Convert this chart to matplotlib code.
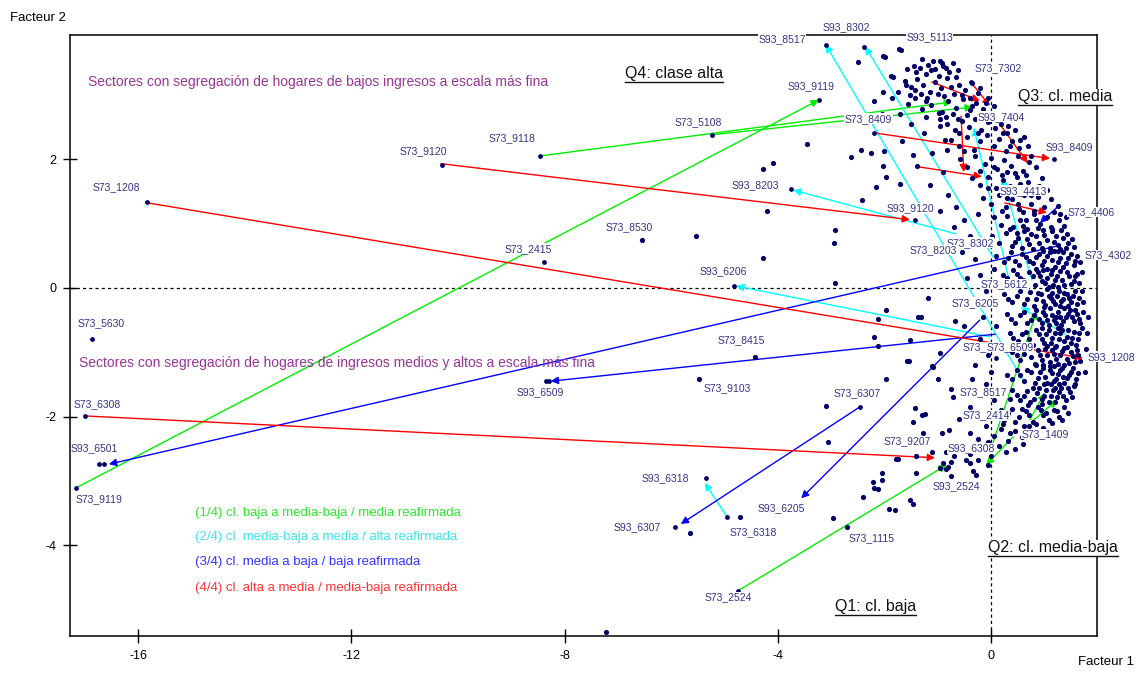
import matplotlib
matplotlib.use("Agg")
import matplotlib.pyplot as plt
from matplotlib.lines import Line2D

plt.rcParams['font.family'] = ['Liberation Sans', 'DejaVu Sans']
plt.rcParams['axes.unicode_minus'] = False

# ---- data -------------------------------------------------------------
# sectors drawn as dots (Facteur 1, Facteur 2)
band_top = [(-1.45, 3.45), (-1.30, 3.55), (-1.18, 3.47), (-1.05, 3.40), (-0.95, 3.53), (-0.85, 3.42),
            (-0.72, 3.50), (-0.62, 3.38), (-1.22, 3.33), (-0.98, 3.30), (-1.62, 3.22), (-1.50, 3.12),
            (-1.38, 3.25), (-1.27, 3.15), (-1.15, 3.05), (-1.05, 3.20), (-0.93, 3.10), (-0.82, 3.26),
            (-0.70, 3.02), (-0.60, 3.15), (-0.48, 3.08), (-0.35, 3.18), (-0.25, 3.03), (-1.32, 3.02),
            (-0.88, 2.98), (-1.55, 2.85), (-1.42, 2.95), (-1.30, 2.78), (-1.12, 2.84), (-0.98, 2.72),
            (-0.80, 2.90), (-0.65, 2.80), (-0.52, 2.93), (-0.40, 2.76), (-0.28, 2.88), (-0.15, 2.78),
            (-0.05, 2.95), (0.05, 2.82), (-0.72, 2.70), (-0.45, 2.68),
            (-1.40, 3.35), (-1.12, 3.38), (-0.90, 3.45), (-0.78, 3.35), (-0.66, 3.28), (-1.52, 3.00),
            (-1.20, 2.95), (-1.00, 3.02), (-0.75, 3.12), (-0.55, 3.00), (-0.40, 2.95), (-0.20, 3.10),
            (-0.10, 2.88), (-0.35, 2.82), (-0.62, 2.62), (-0.85, 2.65), (-0.15, 2.62), (0.02, 2.70)]
band_upper = [(-0.95, 2.62), (-0.82, 2.55), (-0.68, 2.45), (-0.55, 2.60), (-0.42, 2.50), (-0.30, 2.62),
              (-0.18, 2.45), (-0.05, 2.58), (0.08, 2.48), (0.20, 2.62), (0.32, 2.52), (-0.60, 2.40),
              (0.12, 2.68), (-0.25, 2.40), (-0.75, 2.30), (-0.60, 2.20), (-0.45, 2.35), (-0.32, 2.15),
              (-0.20, 2.28), (-0.08, 2.38), (0.05, 2.20), (0.15, 2.32), (0.28, 2.12), (0.40, 2.28),
              (0.52, 2.18), (0.62, 2.35), (-0.50, 2.12), (0.22, 2.40), (-0.58, 2.00), (-0.45, 1.88),
              (-0.30, 2.05), (-0.12, 1.92), (0.00, 2.02), (0.12, 1.85), (0.25, 1.98), (0.38, 1.90),
              (0.50, 2.05), (0.60, 1.82), (0.72, 1.95), (0.85, 1.88), (0.30, 1.80), (-0.20, 1.82),
              (0.45, 1.78), (0.18, 2.55), (0.30, 2.40), (0.45, 2.45), (0.55, 2.30), (0.70, 2.20),
              (0.75, 2.05), (0.35, 2.20)]
band_mid = [(-0.35, 1.70), (-0.20, 1.60), (-0.05, 1.72), (0.10, 1.55), (0.22, 1.68), (0.35, 1.58),
            (0.48, 1.72), (0.58, 1.52), (0.70, 1.65), (0.82, 1.55), (0.95, 1.70), (0.40, 1.50),
            (0.65, 1.76), (-0.15, 1.40), (0.00, 1.30), (0.15, 1.45), (0.28, 1.25), (0.40, 1.38),
            (0.52, 1.22), (0.62, 1.45), (0.75, 1.30), (0.88, 1.42), (1.00, 1.25), (1.12, 1.38),
            (1.25, 1.28), (0.45, 1.48), (0.80, 1.20), (0.05, 1.10), (0.18, 0.98), (0.30, 1.12),
            (0.42, 0.95), (0.55, 1.05), (0.68, 0.92), (0.80, 1.15), (0.92, 1.00), (1.05, 1.10),
            (1.15, 0.92), (1.28, 1.05), (1.38, 0.96), (0.60, 1.18), (0.98, 0.90), (0.02, 0.80),
            (0.15, 0.70), (0.28, 0.85), (0.40, 0.65), (0.50, 0.78), (0.62, 0.88), (0.72, 0.68),
            (0.85, 0.80), (0.95, 0.62), (1.05, 0.75), (1.15, 0.88), (1.25, 0.66), (1.35, 0.78),
            (1.45, 0.70), (0.78, 0.60), (1.10, 0.62), (0.58, 0.62),
            (0.05, 1.88), (0.20, 1.75), (0.55, 1.62), (0.75, 1.45), (0.90, 1.58), (1.05, 1.52),
            (1.18, 1.18), (1.30, 1.15), (0.30, 1.40), (0.50, 1.30), (0.65, 1.05), (0.85, 1.05),
            (0.20, 1.20), (1.40, 1.10)]
dense_upper = [(0.35, 0.92), (0.48, 0.86), (0.60, 0.96), (0.75, 0.84), (0.88, 0.93), (1.00, 0.82),
               (1.12, 0.95), (1.22, 0.80), (1.32, 0.90), (1.42, 0.83), (1.52, 0.76), (0.45, 0.72),
               (0.68, 0.76), (0.90, 0.70), (1.18, 0.72), (1.40, 0.62), (1.55, 0.64), (1.30, 0.60),
               (0.32, 0.46), (0.45, 0.42), (0.58, 0.52), (0.72, 0.42), (0.84, 0.48), (0.95, 0.36),
               (1.05, 0.50), (1.15, 0.44), (1.25, 0.40), (1.35, 0.55), (1.45, 0.46), (1.55, 0.36),
               (1.62, 0.50), (1.68, 0.40), (1.18, 0.58), (0.98, 0.58), (0.30, 0.15), (0.42, 0.28),
               (0.55, 0.15), (0.66, 0.05), (0.78, 0.18), (0.88, 0.25), (0.96, 0.10), (1.06, 0.16),
               (1.16, 0.05), (1.24, 0.18), (1.34, 0.12), (1.42, 0.25), (1.50, 0.06), (1.58, 0.18),
               (1.66, 0.08), (1.70, 0.25), (1.14, 0.28)]
dense_lower = [(0.32, -0.18), (0.48, -0.12), (0.62, -0.25), (0.74, -0.06), (0.84, -0.18), (0.94, -0.10),
               (1.02, -0.26), (1.08, -0.12), (1.16, -0.20), (1.24, -0.12), (1.32, -0.20), (1.38, -0.08),
               (1.46, -0.16), (1.54, -0.12), (1.62, -0.25), (1.70, -0.05), (1.72, -0.22), (0.38, -0.48),
               (0.55, -0.42), (0.68, -0.55), (0.80, -0.42), (0.90, -0.48), (0.98, -0.38), (1.06, -0.50),
               (1.14, -0.42), (1.22, -0.55), (1.30, -0.45), (1.36, -0.52), (1.44, -0.40), (1.52, -0.46),
               (1.58, -0.35), (1.65, -0.48), (1.72, -0.38), (0.42, -0.78), (0.58, -0.72), (0.72, -0.80),
               (0.84, -0.66), (0.95, -0.80), (1.04, -0.72), (1.12, -0.86), (1.20, -0.70), (1.28, -0.80),
               (1.34, -0.66), (1.42, -0.76), (1.50, -0.86), (1.56, -0.68), (1.64, -0.80), (1.70, -0.62),
               (1.05, -0.90), (0.48, -1.05), (0.62, -1.02), (0.76, -1.08), (0.88, -0.96), (0.96, -1.12),
               (1.06, -1.04), (1.14, -0.96), (1.22, -1.10), (1.30, -1.05), (1.38, -0.94), (1.46, -1.16),
               (1.54, -1.06), (1.62, -0.96), (1.68, -1.14), (1.10, -1.22), (0.85, -1.20), (0.40, -1.42),
               (0.55, -1.35), (0.68, -1.28), (0.82, -1.48), (0.92, -1.30), (1.02, -1.38), (1.10, -1.28),
               (1.18, -1.45), (1.26, -1.34), (1.34, -1.25), (1.42, -1.40), (1.50, -1.30), (1.58, -1.50),
               (1.64, -1.32), (1.00, -1.50), (1.28, -1.50), (0.35, -1.72), (0.48, -1.66), (0.62, -1.68),
               (0.74, -1.78), (0.86, -1.64), (0.96, -1.72), (1.04, -1.58), (1.12, -1.68), (1.20, -1.78),
               (1.28, -1.62), (1.36, -1.68), (1.44, -1.56), (1.52, -1.70), (1.20, -1.55), (0.78, -1.55),
               (0.18, -1.90), (0.32, -1.95), (0.46, -2.08), (0.58, -1.88), (0.72, -1.98), (0.84, -2.12),
               (0.94, -1.90), (1.04, -1.95), (1.14, -2.10), (1.24, -1.92), (1.34, -2.06), (0.62, -2.15),
               (0.35, -2.25), (0.92, -2.30), (1.78, -0.95), (1.80, -0.70), (1.76, -1.30), (1.82, -0.45)]
band_center = [(0.10, 0.50), (0.25, 0.40), (0.38, 0.55), (0.52, 0.35), (0.65, 0.48), (0.78, 0.38),
               (0.90, 0.52), (1.00, 0.42), (1.10, 0.55), (1.20, 0.33), (1.30, 0.47), (1.40, 0.38),
               (1.50, 0.52), (1.58, 0.42), (0.85, 0.30), (1.05, 0.30), (1.25, 0.58), (1.35, 0.32),
               (0.22, 0.20), (0.35, 0.08), (0.48, 0.22), (0.60, 0.12), (0.72, 0.25), (0.82, 0.05),
               (0.92, 0.18), (1.02, 0.08), (1.12, 0.22), (1.20, 0.12), (1.30, 0.26), (1.38, 0.05),
               (1.46, 0.18), (1.55, 0.10), (1.62, 0.22), (1.08, 0.02), (1.25, 0.02), (0.98, 0.28),
               (0.25, -0.10), (0.40, -0.22), (0.55, -0.05), (0.68, -0.18), (0.80, -0.28), (0.88, -0.08),
               (0.98, -0.20), (1.05, -0.02), (1.12, -0.15), (1.20, -0.25), (1.28, -0.05), (1.35, -0.18),
               (1.42, -0.10), (1.50, -0.22), (1.58, -0.05), (1.65, -0.15), (1.15, -0.08), (1.30, -0.28),
               (1.45, -0.28), (1.00, -0.30), (0.30, -0.40), (0.45, -0.55), (0.62, -0.38), (0.75, -0.50),
               (0.85, -0.35), (0.95, -0.55), (1.02, -0.42), (1.10, -0.32), (1.18, -0.50), (1.25, -0.38),
               (1.32, -0.58), (1.40, -0.45), (1.48, -0.35), (1.55, -0.52), (1.62, -0.40), (1.68, -0.55),
               (1.22, -0.45), (1.38, -0.32), (1.08, -0.58)]
band_lower = [(0.35, -0.70), (0.50, -0.82), (0.65, -0.68), (0.78, -0.88), (0.90, -0.72), (1.00, -0.85),
              (1.08, -0.65), (1.15, -0.78), (1.22, -0.90), (1.30, -0.70), (1.38, -0.82), (1.45, -0.65),
              (1.52, -0.78), (1.60, -0.88), (1.66, -0.70), (1.25, -0.62), (1.42, -0.92), (0.95, -0.62),
              (0.40, -1.00), (0.55, -1.12), (0.70, -0.95), (0.82, -1.18), (0.92, -1.05), (1.02, -0.95),
              (1.10, -1.15), (1.18, -1.02), (1.26, -1.18), (1.34, -0.98), (1.42, -1.10), (1.50, -1.00),
              (1.58, -1.15), (1.64, -1.05), (1.20, -0.92), (1.38, -1.20), (0.98, -1.20), (0.30, -1.35),
              (0.48, -1.28), (0.62, -1.45), (0.75, -1.30), (0.88, -1.40), (0.98, -1.25), (1.06, -1.48),
              (1.14, -1.32), (1.22, -1.42), (1.30, -1.28), (1.38, -1.48), (1.46, -1.35), (1.54, -1.25),
              (1.60, -1.42), (1.18, -1.22), (1.35, -1.38), (0.25, -1.65), (0.40, -1.58), (0.55, -1.75),
              (0.68, -1.60), (0.80, -1.72), (0.90, -1.55), (1.00, -1.68), (1.08, -1.78), (1.16, -1.58),
              (1.24, -1.70), (1.32, -1.55), (1.40, -1.75), (1.48, -1.62), (1.55, -1.52), (1.12, -1.50),
              (0.95, -1.80)]
band_bottom = [(0.10, -1.95), (0.25, -2.05), (0.40, -1.88), (0.52, -2.00), (0.65, -1.92), (0.78, -2.08),
               (0.88, -1.85), (0.98, -1.98), (1.08, -2.05), (1.18, -1.90), (1.28, -2.00), (1.38, -1.85),
               (1.45, -1.95), (0.70, -1.82), (-0.40, -2.25), (-0.25, -2.35), (-0.10, -2.15), (0.05, -2.30),
               (0.18, -2.20), (0.32, -2.38), (0.45, -2.22), (0.58, -2.32), (0.72, -2.15), (0.85, -2.28),
               (0.98, -2.18), (1.10, -2.30), (0.22, -2.12), (-0.05, -2.40), (-0.85, -2.55), (-0.70, -2.62),
               (-0.55, -2.48), (-0.40, -2.58), (-0.25, -2.68), (-0.12, -2.50), (0.00, -2.62), (0.15, -2.45),
               (0.28, -2.55), (0.45, -2.50), (0.60, -2.42), (-0.30, -2.45), (-0.90, -2.72), (-0.80, -2.78),
               (-0.85, -2.82), (-0.75, -2.70), (-0.95, -2.80)]
band_edge = [(-0.80, 1.45), (-0.65, 1.25), (-0.50, 1.05), (-0.70, 0.95), (-0.40, 0.80), (-0.55, 0.55),
             (-0.30, 0.45), (-0.20, 0.20), (-0.45, 0.15), (-0.10, -0.05), (-0.35, -0.20), (-0.15, -0.45),
             (-0.50, -0.60), (-0.20, -0.80), (-0.05, -1.05), (-0.30, -1.20), (-0.10, -1.50), (0.05, -1.75),
             (-0.40, -1.85), (-0.15, -2.00), (0.00, -1.30), (0.10, -0.60), (0.05, 0.30), (-0.25, 1.15),
             (-0.05, 1.55), (-0.90, 1.80), (-1.10, 2.10), (-1.25, 2.40), (-1.50, 2.55), (-1.70, 2.70),
             (-1.85, 2.95), (-2.05, 2.70), (-1.15, 1.60), (-0.95, 1.20)]
scattered = [(-2.50, 3.51), (-1.99, 3.59), (-1.69, 3.69), (-1.84, 3.27), (-2.20, 2.91), (-3.45, 2.24),
             (-2.63, 2.04), (-2.44, 2.14), (-2.25, 2.10), (-2.00, 2.12), (-1.67, 2.29), (-1.46, 2.06),
             (-2.03, 1.90), (-4.28, 1.85), (-4.09, 1.94), (-4.20, 1.20), (-2.42, 1.37), (-1.71, 1.62),
             (-2.16, 1.57), (-1.97, 1.72), (-2.93, 0.90), (-2.95, 0.69), (-4.27, 0.47), (-2.93, 0.08),
             (-1.73, 3.72), (-2.03, 3.61), (-1.58, 3.40), (-1.33, 3.42), (-1.09, 3.52), (-0.91, 3.49),
             (-1.88, 3.29), (-1.74, 3.05), (-2.03, 3.04), (-1.59, 3.16), (-1.43, 3.08), (-1.21, 2.91),
             (-1.22, 2.66), (-0.91, 2.74), (-0.96, 2.51), (-0.86, 2.30), (-0.83, 2.15), (-1.39, 1.90),
             (-1.18, -0.16), (-1.97, -0.34), (-1.31, -0.45), (-0.68, -0.52), (-2.20, -0.76), (-2.12, -0.90),
             (-0.96, -1.01), (-1.53, -1.13), (-1.08, -1.23), (-0.99, -1.42), (-1.97, -1.42), (-0.36, -1.42),
             (-0.75, -1.57), (-0.71, -1.69), (-3.10, -1.83), (-1.43, -1.86), (-1.24, -1.96), (-1.46, -2.08),
             (-0.91, -2.26), (-0.79, -2.21), (-0.59, -2.04), (-3.06, -2.40), (-1.74, -2.66), (-2.05, -2.88),
             (-2.21, -3.01), (-2.05, -2.99), (-2.19, -3.11), (-2.11, -3.13), (-2.41, -3.25), (-1.51, -3.30),
             (-1.46, -3.36), (-1.92, -3.44), (-1.80, -3.45), (-2.96, -3.58), (-4.70, -3.56), (-1.41, -2.88),
             (-0.47, -2.67), (-0.40, -2.72), (-0.33, -2.85), (-0.06, -2.75), (-0.28, -2.91), (-0.75, -2.92),
             (-2.12, -0.48), (-1.37, -0.45), (-1.52, -0.81), (-1.58, -1.14), (-1.11, -1.22), (-1.30, -1.98),
             (-1.28, -2.26), (-1.11, -2.55), (-1.41, -2.61), (-6.55, 0.75), (-5.53, 0.80), (-7.22, -5.35),
             (-5.65, -3.81), (-2.71, -3.71), (-4.42, -1.07), (-5.48, -1.42), (-1.78, -2.66)]

# sectors with a change of class between 1973 and 1993 (S73 -> S93)
from_x = [-17.17, -8.46, -5.23, -4.75, 0.41, 0.04, 0.73, 0.77,
          0.64, 0.04, -0.66, -0.02, -4.95, 0.36, 0.77, 1.39,
          1.24, 0.08, -2.46, -0.21, 1.29,
          -15.82, -2.20, -10.32, -17.00, 0.26, -0.38, -1.11, -0.56, -1.35, 0.17]
from_y = [-3.11, 2.05, 2.38, -4.71, -2.32, -2.40, -2.05, -2.08,
          -1.49, 0.48, 0.84, -0.76, -3.56, 0.05, 0.12, -0.72,
          0.65, -0.72, -1.85, -0.50, 1.29,
          1.32, 2.41, 1.93, -1.99, 1.32, 3.20, 3.20, 2.67, 1.88, 2.54]
to_x = [-3.23, -0.73, -0.34, -0.83, -0.09, 0.86, 1.01, 1.24,
        -3.10, -2.36, -3.71, -4.78, -5.37, -0.32, 0.21, 0.56,
        -16.55, -8.26, -5.82, -3.56, 0.92,
        1.73, 1.11, -1.52, -1.05, 1.05, -0.02, -0.21, -0.51, -0.17, 0.69]
to_y = [2.92, 2.89, 2.81, -2.75, -2.75, -0.36, -1.63, -1.74,
        3.78, 3.75, 1.52, 0.03, -3.03, 2.49, 1.71, -0.30,
        -2.74, -1.45, -3.67, -3.27, 1.01,
        -1.09, 2.01, 1.06, -2.64, 1.17, 2.83, 2.91, 1.80, 1.73, 1.94]
shift_class = [1] * 8 + [2] * 8 + [3] * 5 + [4] * 10

label_names = ['S93_8517', 'S93_8302', 'S93_5113', 'S73_7302', 'S93_9119', 'S73_5108', 'S73_8409',
               'S93_7404', 'S73_9118', 'S73_9120', 'S93_8409', 'S93_8203', 'S93_4413', 'S73_1208',
               'S93_9120', 'S73_4406', 'S73_8530', 'S73_8302', 'S73_8203', 'S73_2415', 'S73_4302',
               'S93_6206', 'S73_5612', 'S73_6205', 'S73_5630', 'S73_8415', 'S73_6206', 'S73_6509',
               'S93_1208', 'S73_9207', 'S93_6509', 'S73_9103', 'S73_6307', 'S73_8517', 'S73_2414',
               'S73_6308', 'S93_6501', 'S73_1409', 'S93_6308', 'S93_2524', 'S73_9119', 'S93_6318',
               'S93_6205', 'S73_6318', 'S93_6307', 'S73_1115', 'S73_2524']
# dots of the labelled sectors that are not in the cloud lists
labelled_x = [-3.09, -2.38, -3.22, -5.23, -2.20, -8.46, -10.30, 1.18, -3.75, -15.83, -1.43, -8.39,
              -4.83, -16.87, -8.29, -8.34, -5.93, -17.00, -16.64, -16.74, -17.17, -5.35, -4.95,
              -4.75, -2.46, -0.38, 0.10]
labelled_y = [3.78, 3.75, 2.92, 2.38, 2.41, 2.05, 1.91, 2.01, 1.54, 1.33, 1.06, 0.41,
              0.03, -0.80, -1.45, -1.45, -3.72, -1.99, -2.74, -2.74, -3.11, -2.95, -3.56,
              -4.71, -1.85, 3.20, -1.09]

class_colors = {1: '#00ee00', 2: '#00ffff', 3: '#0000ff', 4: '#ff0000'}
legend_texts = ['(1/4) cl. baja a media-baja / media reafirmada',
                '(2/4) cl. media-baja a media / alta reafirmada',
                '(3/4) cl. media a baja / baja reafirmada',
                '(4/4) cl. alta a media / media-baja reafirmada']
legend_colors = ['#2ee62e', '#33e8f0', '#3333ff', '#ff3333']
quadrant_texts = ['Q4: clase alta', 'Q3: cl. media', 'Q2: cl. media-baja', 'Q1: cl. baja']
note_texts = ['Sectores con segregación de hogares de bajos ingresos a escala más fina',
              'Sectores con segregación de hogares de ingresos medios y altos a escala más fina']

# ---- layout -----------------------------------------------------------
label_x = [-4.36, -3.15, -1.59, -0.30, -3.82, -5.93, -2.74, -0.26, -9.42, -11.10, 1.02, -4.87, 0.17,
           -16.85, -1.95, 1.43, -7.24, -0.83, -1.52, -9.13, 1.76, -5.46, -0.19, -0.73, -17.13, -5.12,
           -0.53, -0.09, 1.82, -2.02, -8.91, -5.39, -2.96, -0.58, -0.53, -17.22, -17.26, 0.58, -0.81,
           -1.09, -17.18, -6.55, -4.38, -4.90, -7.09, -2.68, -5.38]
label_y = [3.86, 4.06, 3.89, 3.41, 3.14, 2.58, 2.63, 2.66, 2.33, 2.12, 2.19, 1.59, 1.51, 1.56, 1.24,
           1.18, 0.95, 0.70, 0.59, 0.61, 0.51, 0.26, 0.06, -0.23, -0.55, -0.81, -0.92, -0.92, -1.07,
           -2.38, -1.62, -1.56, -1.63, -1.62, -1.98, -1.80, -2.49, -2.27, -2.49, -3.08, -3.28, -2.95,
           -3.42, -3.79, -3.72, -3.89, -4.81]
quadrant_pos = [(-6.87, 3.33), (0.51, 2.97), (-0.06, -4.04), (-2.93, -4.95)]
note_pos = [(-16.94, 3.20), (-17.11, -1.17)]
legend_x = -14.93
legend_y = [-3.50, -3.87, -4.26, -4.67]

fig = plt.figure(figsize=(11.38, 6.77), dpi=100)
ax = fig.add_axes([70 / 1138, 1 - 636 / 677, 1027 / 1138, 601 / 677])
ax.set_xlim(-17.28, 1.99)
ax.set_ylim(-5.41, 3.93)

ax.axhline(0, color='black', lw=0.9, ls=(0, (2.5, 2.5)), zorder=1)
ax.axvline(0, color='black', lw=0.9, ls=(0, (2.5, 2.5)), zorder=1)

for x0, y0, x1, y1, k in zip(from_x, from_y, to_x, to_y, shift_class):
    ax.annotate('', xy=(x1, y1), xytext=(x0, y0),
                arrowprops=dict(arrowstyle='-|>', color=class_colors[k], lw=1.0,
                                mutation_scale=11, shrinkA=0, shrinkB=0), zorder=2)

cloud = (band_top + band_upper + band_mid + dense_upper + dense_lower + band_center + band_lower
         + band_bottom + band_edge + scattered)
ax.scatter([p[0] for p in cloud], [p[1] for p in cloud], s=14, color='#000066', linewidths=0, zorder=3)
ax.scatter(labelled_x, labelled_y, s=12, color='#000066', linewidths=0, zorder=3)

for name, lx, ly in zip(label_names, label_x, label_y):
    ax.text(lx, ly, name, fontsize=7.5, color='#333388', ha='left', va='center', zorder=5,
            clip_on=False, bbox=dict(facecolor='white', edgecolor='none', pad=0.3))

for txt, (nx, ny) in zip(note_texts, note_pos):
    ax.text(nx, ny, txt, fontsize=10, color='#993399', ha='left', va='center', zorder=6)

for txt, c, ly in zip(legend_texts, legend_colors, legend_y):
    ax.text(legend_x, ly, txt, fontsize=9.5, color=c, ha='left', va='center', zorder=6)

q_texts = []
for txt, (qx, qy) in zip(quadrant_texts, quadrant_pos):
    q_texts.append(ax.text(qx, qy, txt, fontsize=11.5, color='#111111', ha='left', va='center',
                           zorder=6, bbox=dict(facecolor='white', edgecolor='none', pad=0.5)))

ax.set_xticks([-16, -12, -8, -4, 0])
ax.set_yticks([-4, -2, 0, 2])
ax.tick_params(direction='inout', length=10, width=1, labelsize=9, pad=5)
for sp in ax.spines.values():
    sp.set_linewidth(1.1)

fig.text(10 / 1138, 1 - 18 / 677, 'Facteur 2', fontsize=9.5, ha='left', va='center')
fig.text(1134 / 1138, 1 - 662 / 677, 'Facteur 1', fontsize=9.5, ha='right', va='center')

# underline the quadrant names
fig.canvas.draw()
inv = fig.transFigure.inverted()
for t in q_texts:
    bb = t.get_window_extent()
    (a, b) = inv.transform((bb.x0, bb.y0 - 1))
    (c, d) = inv.transform((bb.x1, bb.y0 - 1))
    fig.add_artist(Line2D([a, c], [b, d], color='#111111', lw=1.0, zorder=7))

fig.savefig('out.png', dpi=100)
